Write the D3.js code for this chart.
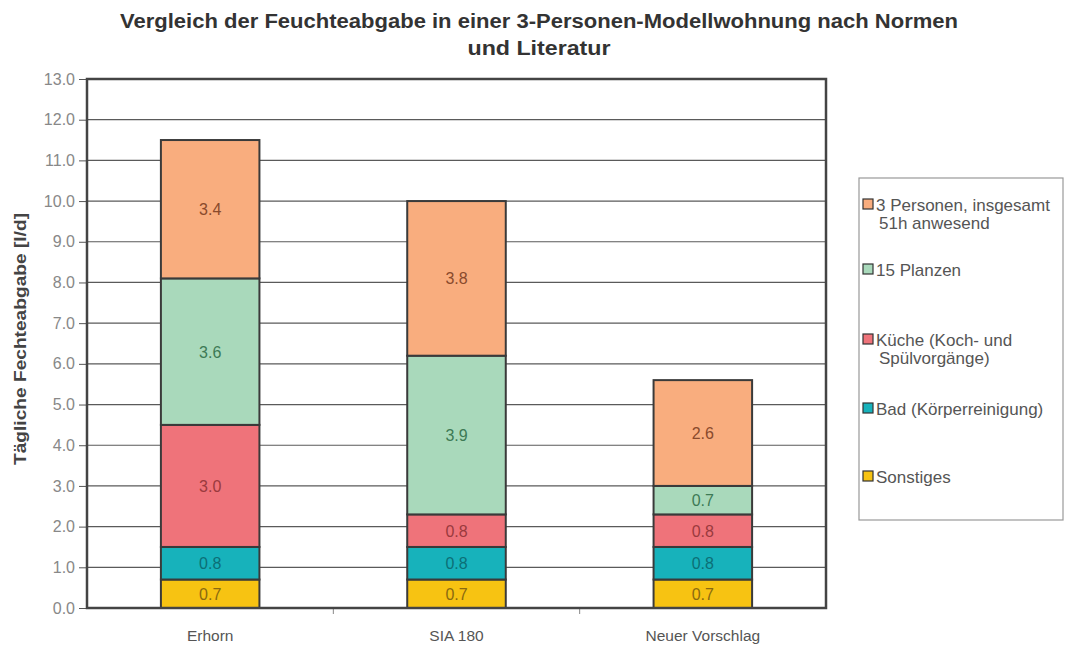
<!DOCTYPE html>
<html>
<head>
<meta charset="utf-8">
<script src="https://cdn.jsdelivr.net/npm/d3@7"></script>
<style>
  body { margin: 0; background: #fff; }
  svg { font-family: "Liberation Sans", Arial, sans-serif; }
</style>
</head>
<body>
<svg id="chart" width="1069" height="646"></svg>
<script>
// data
const categories = ["Erhorn", "SIA 180", "Neuer Vorschlag"];
const seriesNames = [
  "Sonstiges",
  "Bad (Körperreinigung)",
  "Küche (Koch- und Spülvorgänge)",
  "15 Planzen",
  "3 Personen, insgesamt 51h anwesend"
];
const sonstiges = [0.7, 0.7, 0.7];
const bad = [0.8, 0.8, 0.8];
const kueche = [3.0, 0.8, 0.8];
const pflanzen = [3.6, 3.9, 0.7];
const personen = [3.4, 3.8, 2.6];
const yTicks = [0, 1, 2, 3, 4, 5, 6, 7, 8, 9, 10, 11, 12, 13];

const fills = ["#f7c312", "#17b2bb", "#ef737a", "#a9d9bb", "#f9ad7e"];
const textCols = ["#8a6a10", "#0c6f76", "#9a3a3e", "#3d7a55", "#8a4a2c"];
// legend lines (top to bottom)
const legendLines = [
  ["3 Personen, insgesamt", "51h anwesend"],
  ["15 Planzen"],
  ["Küche (Koch- und", "Spülvorgänge)"],
  ["Bad (Körperreinigung)"],
  ["Sonstiges"]
];

const svg = d3.select("#chart");
const margin = { top: 79, left: 87, right: 243, bottom: 38 };
const width = 1069 - margin.left - margin.right,
  height = 646 - margin.top - margin.bottom;

const table = categories.map((c, i) => ({
  cat: c,
  s0: sonstiges[i], s1: bad[i], s2: kueche[i], s3: pflanzen[i], s4: personen[i]
}));
const stack = d3.stack().keys(["s0", "s1", "s2", "s3", "s4"])(table);

const x = d3.scaleBand().domain(categories).range([0, width])
  .paddingInner(0.6).paddingOuter(0.3);
const xOuter = d3.scaleBand().domain(categories).range([0, width]);
const y = d3.scaleLinear().domain([0, 13]).range([height, 0]);

// title (reference text is a bit wider than the font, so stretch it)
const titleLines = ["Vergleich der Feuchteabgabe in einer 3-Personen-Modellwohnung nach Normen", "und Literatur"];
const titleLen = [838, 143];
svg.append("g").selectAll("text")
  .data(titleLines)
  .join("text")
  .attr("x", 539).attr("y", (d, i) => 28 + i * 27)
  .attr("text-anchor", "middle")
  .attr("font-size", 20).attr("font-weight", "bold").attr("fill", "#333")
  .attr("textLength", (d, i) => titleLen[i]).attr("lengthAdjust", "spacingAndGlyphs")
  .text(d => d);

const g = svg.append("g").attr("transform", `translate(${margin.left},${margin.top})`);

// gridlines
g.append("g").selectAll("line").data(yTicks).join("line")
  .attr("x1", 0).attr("x2", width)
  .attr("y1", d => y(d)).attr("y2", d => y(d))
  .attr("stroke", "#5a5a5a").attr("stroke-width", 1.2);

// y axis
const yAxis = g.append("g")
  .call(d3.axisLeft(y).tickValues(yTicks).tickFormat(d3.format(".1f")).tickSize(8).tickPadding(4));
yAxis.select(".domain").remove();
yAxis.selectAll("line").attr("stroke", "#555");
yAxis.selectAll("text").attr("font-size", 16).attr("fill", "#888")
  .attr("font-family", "Liberation Sans, Arial, sans-serif");

// x axis with ticks between categories
const xAxis = g.append("g").attr("transform", `translate(0,${height})`)
  .call(d3.axisBottom(xOuter).tickSize(0).tickPadding(22));
xAxis.select(".domain").remove();
xAxis.selectAll("text").attr("font-size", 15.5).attr("fill", "#555")
  .attr("font-family", "Liberation Sans, Arial, sans-serif");
g.append("g").selectAll("line").data(categories.slice(1)).join("line")
  .attr("x1", d => xOuter(d)).attr("x2", d => xOuter(d))
  .attr("y1", height).attr("y2", height + 6)
  .attr("stroke", "#888");

// bars
stack.forEach((layer, k) => {
  const lg = g.append("g");
  lg.selectAll("rect").data(layer).join("rect")
    .attr("x", d => x(d.data.cat))
    .attr("width", x.bandwidth())
    .attr("y", d => y(d[1]))
    .attr("height", d => y(d[0]) - y(d[1]))
    .attr("fill", fills[k])
    .attr("stroke", "#3a3a3a").attr("stroke-width", 2);
  lg.selectAll("text").data(layer).join("text")
    .attr("x", d => x(d.data.cat) + x.bandwidth() / 2)
    .attr("y", d => (y(d[0]) + y(d[1])) / 2 + 6)
    .attr("text-anchor", "middle")
    .attr("font-size", 16).attr("fill", textCols[k])
    .text(d => d3.format(".1f")(d[1] - d[0]));
});

// plot border
g.append("rect").attr("width", width).attr("height", height)
  .attr("fill", "none").attr("stroke", "#444").attr("stroke-width", 2.5);

// y label
svg.append("text")
  .attr("transform", `translate(26,${339}) rotate(-90)`)
  .attr("text-anchor", "middle")
  .attr("font-size", 16).attr("font-weight", "bold").attr("fill", "#444")
  .attr("textLength", 252).attr("lengthAdjust", "spacingAndGlyphs")
  .text("Tägliche Fechteabgabe [l/d]");

// legend
const leg = svg.append("g");
leg.append("rect").attr("x", 859).attr("y", 178).attr("width", 204).attr("height", 342)
  .attr("fill", "#fff").attr("stroke", "#999").attr("stroke-width", 1.2);
const legY = [211, 276, 346, 415, 483];
legendLines.forEach((lines, i) => {
  const col = fills[4 - i];
  leg.append("rect").attr("x", 863).attr("y", legY[i] - 12).attr("width", 10).attr("height", 10)
    .attr("fill", col).attr("stroke", "#333").attr("stroke-width", 1.2);
  lines.forEach((t, j) => {
    leg.append("text").attr("x", j === 0 ? 876 : 879).attr("y", legY[i] + j * 18)
      .attr("font-size", 17).attr("fill", "#555").text(t);
  });
});
</script>
</body>
</html>
